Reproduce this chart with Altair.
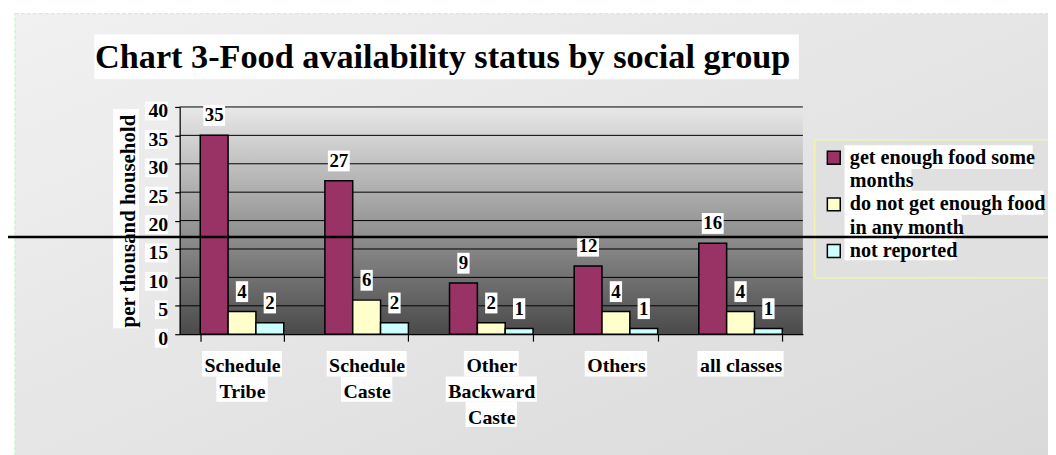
import altair as alt
import pandas as pd

# ---------------- data ----------------
categories = ["Schedule\nTribe", "Schedule\nCaste", "Other\nBackward\nCaste", "Others", "all classes"]
series = ["get enough food some\nmonths", "do not get enough food\nin any month", "not reported"]
get_enough_some_months = [35, 27, 9, 12, 16]
not_enough_any_month = [4, 6, 2, 4, 4]
not_reported = [2, 2, 1, 1, 1]
series_colors = ["#993366", "#ffffcc", "#ccffff"]
y_ticks = [0, 5, 10, 15, 20, 25, 30, 35, 40]
grid_values = [5, 10, 15, 20, 25, 30, 35, 40]
title_text = "Chart 3-Food availability status by social group"
y_title = "per thousand household"

# ---------------- styling helpers ----------------
FONT = "Liberation Serif"
W, H = 628, 229
# advance widths (1/1000 em) of Times/Liberation Serif Bold, used to size the white text boxes
_adv = dict(zip("abcdefghijklmnopqrstuvwxyz",
                [500, 556, 444, 556, 444, 333, 500, 556, 278, 333, 556, 278, 833,
                 556, 500, 556, 556, 444, 389, 333, 556, 500, 722, 500, 500, 444]))
_adv.update(dict(zip("ABCDEFGHIJKLMNOPQRSTUVWXYZ",
                     [722, 667, 722, 722, 667, 611, 778, 778, 389, 500, 778, 667, 944,
                      722, 778, 611, 778, 722, 556, 667, 722, 722, 1000, 722, 722, 667])))
_adv.update({d: 500 for d in "0123456789"})
_adv.update({" ": 250, "-": 333})


def text_w(s, size):
    return sum(_adv.get(ch, 500) for ch in s) / 1000 * size


def box_path(x0, x1, y0, y1):
    return f"M{x0:.1f},{y0:.1f}H{x1:.1f}V{y1:.1f}H{x0:.1f}Z"


rows = []
for s, vals in zip(series, [get_enough_some_months, not_enough_any_month, not_reported]):
    for c, v in zip(categories, vals):
        w = text_w(str(v), 19) + 3
        rows.append({"category": c, "series": s, "value": v, "label": str(v),
                     "box": box_path(-w / 2, w / 2, -30.5, -9.5)})
df = pd.DataFrame(rows)
grid_df = pd.DataFrame({"value": grid_values})
one = pd.DataFrame({"a": [0]})

# white boxes behind the y tick labels
ybox_df = pd.DataFrame({"value": y_ticks,
                        "box": [box_path(-text_w(str(t), 20) - 3, 0, -5.5, 13.5) for t in y_ticks]})
# white boxes behind the x labels (one per line)
xbox_rows = []
for c in categories:
    for i, line in enumerate(c.split("\n")):
        w = text_w(line, 20) + 4
        top = 17 + 25.5 * i
        xbox_rows.append({"category": c, "box": box_path(-w / 2, w / 2, top, top + 25.5)})
xbox_df = pd.DataFrame(xbox_rows)
# white boxes behind the legend labels
lbox_rows = []
for e, s in enumerate(series):
    for i, line in enumerate(s.split("\n")):
        w = text_w(line, 20.3) + 3
        cy = 51 + 46 * e + 24 * i
        lbox_rows.append({"line": line, "box": box_path(0, w, cy - 12.5, cy + 11.5)})
lbox_df = pd.DataFrame(lbox_rows)

x_enc = alt.X("category:N", sort=categories,
              scale=alt.Scale(paddingInner=0.33, paddingOuter=0.165),
              axis=alt.Axis(title=None, labelExpr="split(datum.label, '\\n')",
                            labelFont=FONT, labelFontWeight="bold", labelFontSize=20,
                            labelColor="black", labelLineHeight=26, labelPadding=15,
                            labelBaseline="top", labelAngle=0, zindex=1,
                            tickBand="extent", tickColor="black", tickSize=7,
                            domainColor="black", domainWidth=1.2, tickWidth=1.2))
xo_enc = alt.XOffset("series:N", sort=series)

y_axis = alt.Axis(values=y_ticks, title=y_title, grid=False,
                  labelFont=FONT, labelFontWeight="bold", labelFontSize=20,
                  labelColor="black", labelPadding=7, labelOffset=4, zindex=1,
                  titleFont=FONT, titleFontWeight="bold", titleFontSize=21,
                  titleColor="black", titlePadding=10,
                  tickColor="black", tickSize=5, tickWidth=1.2,
                  domainColor="black", domainWidth=1.2)
y_scale = alt.Scale(domain=[0, 40])

# background of the whole chart
bg = alt.Chart(one).mark_rect(
    color=alt.Gradient(gradient="linear", x1=0, y1=0, x2=1, y2=1,
                       stops=[alt.GradientStop(offset=0, color="#f1f1f1"),
                              alt.GradientStop(offset=1, color="#d9d9d9")]),
    stroke="#b9f5b9", strokeDash=[4, 2], strokeWidth=1
).encode(x=alt.value(-166), x2=alt.value(890), y=alt.value(-94), y2=alt.value(360))

title_box = alt.Chart(one).mark_rect(color="white").encode(
    x=alt.value(-86), x2=alt.value(624), y=alt.value(-73), y2=alt.value(-28))

ytitle_box = alt.Chart(one).mark_rect(color="white").encode(
    x=alt.value(-67), x2=alt.value(-41), y=alt.value(2), y2=alt.value(223))

legend_frame = alt.Chart(one).mark_rect(fill="#e0e0e0", stroke="#f3f3a8", strokeWidth=1.5).encode(
    x=alt.value(640), x2=alt.value(900), y=alt.value(33), y2=alt.value(172))

plot_bg = alt.Chart(one).mark_rect(
    color=alt.Gradient(gradient="linear", x1=0, y1=0, x2=0, y2=1,
                       stops=[alt.GradientStop(offset=0, color="#e8e8e8"),
                              alt.GradientStop(offset=1, color="#4a4a4a")])
).encode(x=alt.value(0), x2=alt.value(W), y=alt.value(0), y2=alt.value(H))

white_pt = dict(filled=True, color="white", fill="white", opacity=1, fillOpacity=1, strokeWidth=0)

ybox = alt.Chart(ybox_df).mark_point(**white_pt).encode(
    x=alt.value(-12), y=alt.Y("value:Q", scale=y_scale, axis=y_axis),
    shape=alt.Shape("box:N", scale=None), size=alt.value(4))

xbox = alt.Chart(xbox_df).mark_point(**white_pt).encode(
    x=x_enc, y=alt.value(H),
    shape=alt.Shape("box:N", scale=None), size=alt.value(4))

lbox = alt.Chart(lbox_df).mark_point(**white_pt).encode(
    x=alt.value(670), y=alt.value(0),
    shape=alt.Shape("box:N", scale=None), size=alt.value(4))

grid = alt.Chart(grid_df).mark_rule(color="black", strokeWidth=1).encode(
    y=alt.Y("value:Q", axis=y_axis, scale=y_scale))

bars = alt.Chart(df).mark_bar(stroke="black", strokeWidth=1.5).encode(
    x=x_enc, xOffset=xo_enc,
    y=alt.Y("value:Q", scale=y_scale, axis=y_axis),
    color=alt.Color("series:N", sort=series,
                    scale=alt.Scale(domain=series, range=series_colors),
                    legend=alt.Legend(title=None, orient="none", legendX=640, legendY=32,
                                      symbolType="square", symbolSize=169,
                                      symbolStrokeColor="black", symbolStrokeWidth=1.5,
                                      labelExpr="split(datum.label, '\\n')",
                                      labelFont=FONT, labelFontWeight="bold", labelFontSize=20.3,
                                      labelColor="black", labelLimit=300,
                                      padding=9, rowPadding=2, strokeColor="transparent",
                                      labelOffset=6))
)

boxes = alt.Chart(df).mark_point(**white_pt).encode(
    x=x_enc, xOffset=xo_enc,
    y=alt.Y("value:Q", scale=y_scale, axis=y_axis),
    shape=alt.Shape("box:N", scale=None), size=alt.value(4))

labels = alt.Chart(df).mark_text(font=FONT, fontWeight="bold", fontSize=19, color="black",
                                 baseline="middle", dy=-20).encode(
    x=x_enc, xOffset=xo_enc,
    y=alt.Y("value:Q", scale=y_scale, axis=y_axis),
    text="label:N")

stray = alt.Chart(one).mark_rule(color="black", strokeWidth=2.5).encode(
    x=alt.value(-173), x2=alt.value(890), y=alt.value(131))

chart = alt.layer(bg, title_box, legend_frame, plot_bg, grid,
                  bars, boxes, ytitle_box, ybox, xbox, lbox, labels, stray).properties(
    width=W, height=H,
    title=alt.TitleParams(title_text,
                          font=FONT, fontWeight="bold", fontSize=34.5, color="black",
                          anchor="start", dx=89, baseline="alphabetic", offset=-90,
                          zindex=1),
    autosize=alt.AutoSizeParams(type="none"),
    padding={"left": 173, "top": 98, "right": 247, "bottom": 120},
    background="white",
).configure_view(stroke=None).configure(style={"guide-label": {"lineHeight": 24}})

chart.save("out.html", embed_options={"renderer": "svg", "actions": False})
